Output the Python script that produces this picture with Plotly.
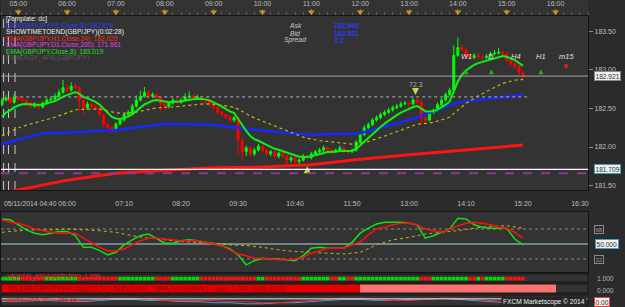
import numpy as np
import pandas as pd
import plotly.graph_objects as go

# ------------------------------------------------------------------ data
start_time = "2014-11-05 04:40"          # first M5 candle
first_open = 182.55
closes = [
    182.61, 182.64, 182.58, 182.65, 182.62, 182.61, 182.57, 182.53, 182.56, 182.52,
    182.57, 182.61, 182.62, 182.66, 182.71, 182.77, 182.74, 182.79, 182.77, 182.61,
    182.51, 182.56, 182.53, 182.51, 182.42, 182.29, 182.25, 182.22, 182.30, 182.35,
    182.42, 182.45, 182.53, 182.61, 182.66, 182.71, 182.66, 182.68, 182.64, 182.56,
    182.53, 182.57, 182.61, 182.58, 182.61, 182.65, 182.66, 182.64, 182.65, 182.61,
    182.60, 182.56, 182.51, 182.45, 182.42, 182.39, 182.35, 182.38, 182.09, 181.94,
    181.99, 181.91, 181.96, 182.01, 181.96, 181.91, 181.94, 181.88, 181.92, 181.88,
    181.83, 181.86, 181.81, 181.83, 181.88, 181.86, 181.91, 181.94, 181.96, 181.99,
    181.96, 181.94, 181.96, 181.99, 181.95, 181.94, 181.96, 182.06, 182.16, 182.25,
    182.29, 182.35, 182.38, 182.42, 182.45, 182.48, 182.51, 182.53, 182.56, 182.57,
    182.56, 182.61, 182.58, 182.38, 182.35, 182.45, 182.48, 182.55, 182.61, 182.68,
    182.74, 183.19, 183.29, 183.26, 183.18, 183.16, 183.19, 183.17, 183.16, 183.18,
    183.21, 183.22, 183.23, 183.21, 183.13, 183.08, 183.05, 182.97, 182.92,
]
upper_wick_pips = [
    3, 3, 2, 4, 2, 2, 2, 2, 2, 2,
    2, 3, 3, 4, 4, 10, 5, 5, 4, 2,
    2, 3, 2, 2, 2, 2, 2, 2, 2, 2,
    2, 3, 3, 6, 7, 7, 3, 3, 2, 2,
    2, 2, 3, 2, 3, 5, 6, 3, 3, 2,
    2, 2, 2, 2, 2, 2, 2, 2, 2, 2,
    3, 2, 3, 3, 2, 2, 2, 2, 2, 2,
    2, 2, 2, 2, 3, 2, 3, 2, 3, 3,
    2, 2, 2, 3, 2, 2, 2, 3, 3, 3,
    3, 3, 3, 3, 3, 3, 3, 3, 3, 3,
    2, 3, 3, 3, 2, 2, 2, 3, 3, 3,
    3, 13, 13, 4, 3, 3, 3, 3, 3, 3,
    3, 4, 6, 3, 2, 2, 2, 2, 2,
]
lower_wick_pips = [
    2, 2, 2, 2, 2, 2, 3, 3, 2, 3,
    2, 2, 2, 2, 2, 2, 2, 2, 2, 15,
    8, 3, 3, 3, 3, 4, 5, 4, 2, 2,
    2, 2, 2, 2, 2, 2, 2, 2, 3, 12,
    5, 3, 2, 2, 2, 2, 2, 2, 2, 3,
    3, 3, 3, 3, 3, 3, 3, 3, 20, 12,
    6, 4, 3, 2, 3, 3, 3, 3, 3, 3,
    6, 3, 5, 3, 2, 2, 2, 2, 2, 2,
    3, 3, 2, 2, 3, 3, 2, 2, 2, 2,
    2, 2, 2, 2, 2, 2, 2, 2, 2, 2,
    3, 2, 2, 8, 6, 2, 2, 2, 2, 2,
    2, 2, 2, 2, 3, 3, 2, 3, 3, 2,
    2, 2, 2, 2, 3, 3, 3, 4, 5,
]

ema8_seed = 182.33      # M5 EMA(8) value before the first visible candle
ema34_seed = 182.12     # M5 EMA(34) value before the first visible candle

h1_8_times = ["04:40", "05:00", "05:30", "06:00", "07:00", "08:00", "09:00", "10:00",
              "11:00", "12:00", "13:00", "14:00", "15:00", "15:20"]
ema_h1_8 = [182.04, 182.10, 182.18, 182.19, 182.22, 182.30, 182.29, 182.21,
            182.16, 182.18, 182.35, 182.58, 182.65, 182.68]
h1_34_times = ["04:40", "06:00", "07:00", "08:00", "09:00", "10:00", "11:00", "12:00",
               "13:00", "14:00", "15:00", "15:20"]
ema_h1_34 = [181.40, 181.57, 181.66, 181.70, 181.73, 181.74, 181.77, 181.84,
             181.90, 181.95, 182.00, 182.025]

current_price = 182.921
support_level = 181.709
d1_level = 181.66
pivot_level = 182.65
pivot_span = ["04:55", "15:25"]
session_marks = ["04:42", "04:48", "04:56"]

signal_up = ("10:55", 181.75)
signal_down = ("13:08", 182.675, "72.3")

mtf_labels = ["W1", "D", "H4", "H1", "m15"]
mtf_times = ["14:10", "14:41", "15:12", "15:42", "16:13"]
mtf_dirs = [1, 1, 0, 1, -1]

hour_marks = ["05:00", "06:00", "07:00", "08:00", "09:00", "10:00", "11:00", "12:00",
              "13:00", "14:00", "15:00", "16:00"]
lower_time_ticks = ["06:00", "07:10", "08:20", "09:30", "10:40", "11:50", "13:00",
                    "14:10", "15:20", "16:30"]

legend_texts = [
    "[Template: dc]",
    "EMA(GBP/JPY.H1.Close,8): 182.678",
    "SHOWTIMETOEND(GBP/JPY)(0:02:28)",
    "EMA(GBP/JPY.H1.Close,34): 182.025",
    "EMA(GBP/JPY.D1.Close,200): 171.661",
    "EMA(GBP/JPY.Close,8): 183.019",
    "SYNERGY_APB.(GBP/JPY)",
]
legend_colors = ["#e6e6e6", "#2e3cff", "#f0f0f0", "#ff2020", "#e040e0", "#20e020", "#5a5a5a"]

# TDI (10-minute samples from 04:40)
tdi_price = [80, 79, 73, 67, 63, 61, 63, 65, 65, 60, 46, 46, 42, 37, 40, 49, 55, 60, 62, 57,
             51, 51, 54, 55, 54, 52, 50, 48, 44, 37, 25, 30, 33, 32, 32, 31, 30, 36, 45, 46,
             45, 45, 45, 52, 63, 69, 74, 76, 76, 76, 75, 73, 57, 60, 64, 68, 81, 80, 73, 70,
             69, 69, 69, 56, 49]
tdi_signal = [79, 76, 75, 72, 68, 66, 64, 63, 63, 63, 57, 51, 46, 42, 42, 44, 49, 54, 57, 57,
              56, 55, 54, 54, 54, 52, 50, 48, 43, 38, 36, 33, 33, 32, 31, 31, 32, 34, 39, 42,
              45, 45, 45, 49, 52, 61, 68, 70, 73, 75, 75, 73, 68, 66, 64, 68, 72, 75, 76, 75,
              73, 70, 69, 64, 57]
# TDI market base line (20-minute samples from 04:40)
tdi_base = [64, 66, 67, 67, 68, 67, 66, 64, 60, 57, 55, 53, 52, 51, 49, 48, 46, 43, 41, 40,
            39, 38, 40, 49, 55, 58, 62, 64, 66, 69, 71, 72, 69]
tdi_levels = [32, 50, 68]

# TDI BAR (H4 blocks)
tdi_bar_starts = ["04:00", "08:00", "12:00"]
tdi_bar_state = ["strong", "strong", "weak"]

# bottom oscillator (20-minute samples from 04:40)
bottom_red = [5, 5, 6, 6, 5, 5, 6, 7, 7, 6, 5, 5, 5, 5, 4, 4, 3, 3, 4, 5, 6, 7, 7, 6, 5, 5,
              6, 7, 7, 6, 5, 4, 3]
bottom_blue = [4, 4, 5, 5, 4, 4, 5, 6, 6, 5, 5, 4, 4, 3, 3, 2, 2, 3, 3, 4, 5, 6, 6, 5, 5, 6,
               6, 7, 6, 5, 4, 3, 3]
bottom_level = 6.5

# ------------------------------------------------------------------ derived
DAY = "2014-11-05 "
def T(s):
    return pd.Timestamp(DAY + s)

times = pd.date_range(start_time, periods=len(closes), freq="5min")
opens = [first_open] + closes[:-1]
highs = [max(o, c) + u * 0.01 for o, c, u in zip(opens, closes, upper_wick_pips)]
lows = [min(o, c) - d * 0.01 for o, c, d in zip(opens, closes, lower_wick_pips)]

def ema(values, n, seed):
    a = 2.0 / (n + 1)
    out, e = [], seed
    for v in values:
        e = e + a * (v - e)
        out.append(e)
    return out

ema8 = ema(closes, 8, ema8_seed)
ema34 = ema(closes, 34, ema34_seed)

# Heiken Ashi colours
ha_cols = []
ha_o = (opens[0] + closes[0]) / 2
for o, h, l, c in zip(opens, highs, lows, closes):
    ha_c = (o + h + l + c) / 4
    ha_cols.append("#00e000" if ha_c >= ha_o else "#ff1010")
    ha_o = (ha_o + ha_c) / 2

t10 = pd.date_range(start_time, periods=len(tdi_price), freq="10min")
t20 = pd.date_range(start_time, periods=len(tdi_base), freq="20min")

# ------------------------------------------------------------------ layout helpers
W, H = 625, 307
XR = 589 / W
def py(px):
    return 1 - px / H

FONT = "Liberation Sans"
BG = "#333333"
PAPER = "#2b2b2b"
BORDER = "#141414"
x_range = [pd.Timestamp("2014-11-05 04:38:47"), pd.Timestamp("2014-11-05 16:40:00")]

fig = go.Figure()

# ---- main panel
fig.add_trace(go.Scatter(x=[T(t) for t in h1_34_times], y=ema_h1_34, mode="lines",
                         line=dict(color="#ff1414", width=3), hoverinfo="skip"))
fig.add_trace(go.Scatter(x=[T(t) for t in h1_8_times], y=ema_h1_8, mode="lines",
                         line=dict(color="#1428ff", width=2.5), hoverinfo="skip"))
fig.add_trace(go.Scatter(x=times, y=ema34, mode="lines",
                         line=dict(color="#c8b414", width=1.2, dash="dot"), hoverinfo="skip"))
fig.add_trace(go.Candlestick(
    x=times, open=opens, high=highs, low=lows, close=closes,
    increasing=dict(line=dict(color="#00ff00", width=1), fillcolor="#00ff00"),
    decreasing=dict(line=dict(color="#ff0000", width=1), fillcolor="#ff0000"),
    whiskerwidth=0, hoverinfo="skip"))
fig.add_trace(go.Scatter(x=times, y=ema8, mode="lines",
                         line=dict(color="#10f010", width=2), hoverinfo="skip"))

# signal arrows
fig.add_trace(go.Scatter(x=[T(signal_up[0])], y=[signal_up[1]], mode="markers",
                         marker=dict(symbol="arrow-up", size=7, color="#b8e040",
                                     line=dict(width=0)), hoverinfo="skip"))
fig.add_trace(go.Scatter(x=[T(signal_down[0])], y=[signal_down[1]], mode="markers",
                         marker=dict(symbol="arrow-down", size=7, color="#b8e040",
                                     line=dict(width=0)), hoverinfo="skip"))

# multi-timeframe arrows
for t, d in zip(mtf_times, mtf_dirs):
    if d != 0:
        fig.add_trace(go.Scatter(
            x=[T(t)], y=[183.01], mode="markers", hoverinfo="skip",
            marker=dict(symbol="arrow-up" if d > 0 else "arrow-down", size=5,
                        color="#18b818" if d > 0 else "#e02020", line=dict(width=0))))

# hour triangles on top strip
fig.add_trace(go.Scatter(x=[T(t) for t in hour_marks], y=[12] * len(hour_marks),
                         mode="markers", xaxis="x", yaxis="y6", hoverinfo="skip",
                         marker=dict(symbol="triangle-down", size=6, color="#c8961e",
                                     line=dict(width=0))))

# ---- TDI panel
fig.add_trace(go.Scatter(x=t20, y=tdi_base, mode="lines", xaxis="x2", yaxis="y2",
                         line=dict(color="#c8b414", width=1, dash="dot"), hoverinfo="skip"))
fig.add_trace(go.Scatter(x=t10, y=tdi_price, mode="lines", xaxis="x2", yaxis="y2",
                         line=dict(color="#10e010", width=1.5), hoverinfo="skip"))
fig.add_trace(go.Scatter(x=t10, y=tdi_signal, mode="lines", xaxis="x2", yaxis="y2",
                         line=dict(color="#ff1010", width=1.5), hoverinfo="skip"))

# ---- Heiken Ashi squares
fig.add_trace(go.Scatter(x=times, y=[0.42] * len(times), mode="markers", xaxis="x",
                         yaxis="y3", hoverinfo="skip",
                         marker=dict(symbol="square", size=3.6, color=ha_cols,
                                     line=dict(width=0))))

# ---- TDI bar
fig.add_trace(go.Bar(
    x=[T(s) + pd.Timedelta(hours=2) for s in tdi_bar_starts], y=[1] * len(tdi_bar_starts),
    width=[4 * 3600 * 1000] * len(tdi_bar_starts), xaxis="x", yaxis="y4",
    marker=dict(color=["#e80000" if s == "strong" else "#ff7272" for s in tdi_bar_state],
                line=dict(width=0)), hoverinfo="skip"))

# ---- bottom oscillator
fig.add_trace(go.Scatter(x=t20, y=bottom_blue, mode="lines", xaxis="x", yaxis="y5",
                         line=dict(color="#3aa0e0", width=1), hoverinfo="skip"))
fig.add_trace(go.Scatter(x=t20, y=bottom_red, mode="lines", xaxis="x", yaxis="y5",
                         line=dict(color="#ff2020", width=1), hoverinfo="skip"))

# ------------------------------------------------------------------ shapes
shapes = []
shapes.append(dict(type="line", xref="x domain", x0=0, x1=1, yref="y", y0=current_price,
                   y1=current_price, line=dict(color="#a8a8a8", width=1)))
shapes.append(dict(type="line", xref="x domain", x0=0, x1=1, yref="y", y0=support_level,
                   y1=support_level, line=dict(color="#ffffff", width=1.2)))
shapes.append(dict(type="line", xref="x domain", x0=0, x1=1, yref="y", y0=d1_level,
                   y1=d1_level, line=dict(color="#8a3c8a", width=2, dash="dash")))
shapes.append(dict(type="line", xref="x", x0=T(pivot_span[0]), x1=T(pivot_span[1]), yref="y",
                   y0=pivot_level, y1=pivot_level,
                   line=dict(color="#9a9a9a", width=1.3, dash="dot")))
for s in session_marks:
    shapes.append(dict(type="line", xref="x", x0=T(s), x1=T(s), yref="y domain", y0=0, y1=1,
                       layer="below", line=dict(color="#c8c8c8", width=1, dash="dash")))
for lv in tdi_levels:
    shapes.append(dict(type="line", xref="x2 domain", x0=0, x1=1, yref="y2", y0=lv, y1=lv,
                       layer="below",
                       line=dict(color="#a8dcdc" if lv == 50 else "#8a8a8a", width=1,
                                 dash="solid" if lv == 50 else "dot")))
shapes.append(dict(type="line", xref="x domain", x0=0, x1=1, yref="y5", y0=bottom_level,
                   y1=bottom_level, line=dict(color="#e8e8e8", width=1)))
for ax in ["y3", "y4", "y5"]:
    shapes.append(dict(type="rect", xref="x domain", x0=0, x1=1, yref=ax + " domain",
                       y0=0, y1=1, line=dict(color=BORDER, width=1)))

# ------------------------------------------------------------------ annotations
ann = []
def txt(x_px, y_px, s, color, size=6.8, anchor="left", **kw):
    ann.append(dict(x=x_px / W, y=py(y_px), xref="paper", yref="paper", text=s,
                    showarrow=False, xanchor=anchor, yanchor="middle",
                    font=dict(family=FONT, size=size, color=color), **kw))

# indicator legend (relative to the main panel)
for k, (s, c) in enumerate(zip(legend_texts, legend_colors)):
    ann.append(dict(x=0.005, y=1 - (3 + 6.5 * k) / 174, xref="x domain", yref="y domain",
                    text=s, showarrow=False, xanchor="left", yanchor="middle",
                    font=dict(family=FONT, size=6.6, color=c)))

# MTF labels
for lab, t in zip(mtf_labels, mtf_times):
    ann.append(dict(x=T(t), y=183.17, xref="x", yref="y", text="<i>%s</i>" % lab,
                    showarrow=False, font=dict(family=FONT, size=7.5, color="#e0e0e0")))
ann.append(dict(x=T(signal_down[0]), y=signal_down[1], xref="x", yref="y", yshift=11,
                text=signal_down[2], showarrow=False,
                font=dict(family=FONT, size=7, color="#b0b0b0")))

txt(295, 25, "<i>Ask</i>", "#c8c8c8", anchor="center")
txt(295, 33, "<i>Bid</i>", "#c8c8c8", anchor="center")
txt(295, 40, "<i>Spread</i>", "#c8c8c8", anchor="center")
txt(332, 25, "<b>182.943</b>", "#2a3cff")
txt(332, 33, "<b>182.921</b>", "#2a3cff")
txt(332, 40, "<b>2.2</b>", "#2a3cff")

txt(1, 203, "05/11/2014 04:40", "#c0c0c0", size=6.8)

box = dict(bgcolor="#eeeeee", borderpad=0.5, borderwidth=1)
txt(608, 76, "182.921", "#303030", size=6.6, anchor="center", bordercolor="#888888", **box)
txt(608, 169, "181.709", "#303030", size=6.6, anchor="center", bordercolor="#3aa0c8", **box)
txt(608, 244, "50.000", "#303030", size=6.6, anchor="center", bordercolor="#3aa0c8", **box)
txt(600, 229, "68", "#9a9a9a", size=6, anchor="center", bordercolor="#8a8a8a",
    borderwidth=1, borderpad=0.5)
txt(600, 259, "32", "#9a9a9a", size=6, anchor="center", bordercolor="#8a8a8a",
    borderwidth=1, borderpad=0.5)
txt(606, 278, "1.000", "#b8b8b8", size=6.6, anchor="center")
txt(606, 290, "0.000", "#b8b8b8", size=6.6, anchor="center")
txt(603, 302, "0.00", "#303030", size=6.6, anchor="center", bordercolor="#e04040", **box)

txt(4, 277, "HEIKEN_ASHI(GBP/JPY): 1.000", "#ff2020", size=6.4)
txt(4, 288.5, "TDI BAR(GBP/JPY.H4.Close,13,34,1.6185,2,MVA,7,MVA,TDI SIGNAL) - open: 1.000  close: 0.000",
    "#8c0000", size=6.4)
txt(4, 299, "SSRC(GBP/JPY): 151.18", "#d02020", size=6.2)
txt(588, 302, "FXCM Marketscope © 2014", "#f0f0f0", size=6.6, anchor="right",
    bgcolor="#262626")

# ------------------------------------------------------------------ axes
tickfont = dict(family=FONT, size=7, color="#bdbdbd")
fig.update_layout(
    width=W, height=H, margin=dict(l=0, r=0, t=0, b=0),
    paper_bgcolor=PAPER, plot_bgcolor=BG, showlegend=False,
    bargap=0, hovermode=False,
    xaxis=dict(domain=[0, XR], range=x_range, type="date", anchor="y", side="top",
               showgrid=False, zeroline=False, rangeslider=dict(visible=False),
               tickvals=[T(t) for t in hour_marks], ticktext=hour_marks,
               ticks="outside", ticklen=6, tickcolor="#777777", tickfont=tickfont,
               minor=dict(dtick=600000, ticklen=3, tickcolor="#5c5c5c", ticks="outside"),
               showline=True, linecolor=BORDER, mirror=True),
    yaxis=dict(domain=[py(190), py(16)], range=[181.442, 183.701], side="right",
               anchor="x", tickvals=[181.5, 182.0, 182.5, 183.0, 183.5],
               ticktext=["181.50", "182.00", "182.50", "183.00", "183.50"],
               ticks="outside", ticklen=4, tickcolor="#8a8a8a", tickfont=tickfont,
               showgrid=False, zeroline=False, showline=True, linecolor=BORDER,
               mirror=True),
    xaxis2=dict(domain=[0, XR], matches="x", range=x_range, type="date", anchor="y2",
                side="top", showgrid=False, zeroline=False,
                tickvals=[T(t) for t in lower_time_ticks], ticktext=lower_time_ticks,
                ticks="outside", ticklen=2, tickcolor="rgba(0,0,0,0)", tickfont=tickfont,
                showline=True, linecolor=BORDER, mirror=True),
    yaxis2=dict(domain=[py(272), py(212)], range=[16.4, 88.4], anchor="x2", side="right",
                showticklabels=False, ticks="", showgrid=False, zeroline=False,
                showline=True, linecolor=BORDER, mirror=True),
    yaxis3=dict(domain=[py(282), py(274)], range=[0, 1], anchor="x", visible=False),
    yaxis4=dict(domain=[py(293), py(284)], range=[0, 1], anchor="x", visible=False),
    yaxis5=dict(domain=[py(306), py(295)], range=[0, 10], anchor="x", visible=False),
    yaxis6=dict(domain=[py(16), 1], range=[16, 0], anchor="x", visible=False),
    shapes=shapes, annotations=ann,
)

fig.write_html("out.html")
